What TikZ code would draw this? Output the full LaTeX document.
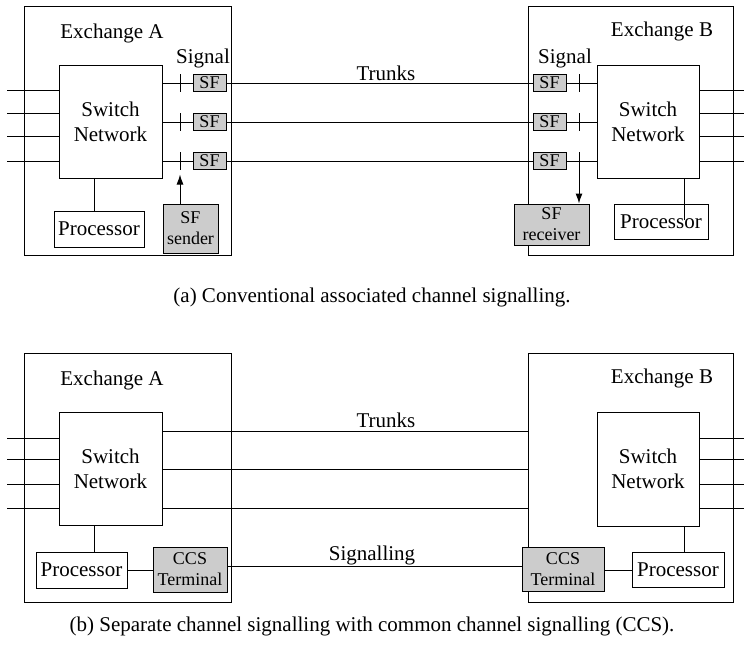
\documentclass[tikz,border=0pt]{standalone}
\usepackage{fontspec}
\setmainfont{Liberation Serif}
\usetikzlibrary{arrows.meta,calc}
\tikzset{
  box/.style={draw, line width=1pt, inner sep=0pt, align=center, font=\fontsize{21}{25}\selectfont},
  graybox/.style={box, fill=gray!40, font=\fontsize{18}{21}\selectfont},
  lbl/.style={inner sep=0pt, font=\fontsize{21}{25}\selectfont},
  wire/.style={line width=1pt},
  arr/.style={line width=1pt, -{Latex[length=10pt,width=7pt]}}
}
\begin{document}
\begin{tikzpicture}[x=1pt,y=-1pt]
\useasboundingbox (0,0) rectangle (744,659);
% ===== top panel =====
\node[box, minimum width=207pt, minimum height=249pt] (exA) at (127.5,130.5) {};
\node[box, minimum width=205pt, minimum height=249pt] (exB) at (630.5,130.5) {};
\node[lbl] (exAl) at (112,33) {Exchange A};
\node[lbl] (exBl) at (662,31) {Exchange B};
\node[box, minimum width=103pt, minimum height=113pt] (swA) at (110.5,121.5) {Switch\\Network};
\node[box, minimum width=102pt, minimum height=113pt] (swB) at (648,121.5) {Switch\\Network};
\node[box, minimum width=90pt, minimum height=36pt] (procA) at (99,229) {Processor};
\node[box, minimum width=94pt, minimum height=35pt] (procB) at (661,221.5) {Processor};
\node[graybox, minimum width=55pt, minimum height=49pt] (sendA) at (190.5,228.5) {SF\\sender};
\node[graybox, minimum width=75pt, minimum height=41pt] (recvB) at (551.5,224.5) {SF\\receiver};
\node[lbl] (sigA) at (203,58) {Signal};
\node[lbl] (sigB) at (565,58) {Signal};
\node[lbl] (trA) at (386,73) {Trunks};
\foreach \i/\y in {1/83,2/122,3/161}{
  \node[graybox, minimum width=33pt, minimum height=17pt] (sfA\i) at (209.5,\y) {SF};
  \node[graybox, minimum width=33pt, minimum height=17pt] (sfB\i) at (549.5,\y) {SF};
}
\coordinate (tA) at (180,0);
\coordinate (tB) at (579,0);
\foreach \i in {1,2,3}{
  \draw[wire] (sfA\i -| swA.east) -- (sfA\i);
  \draw[wire] (sfA\i) -- (sfB\i);
  \draw[wire] (sfB\i) -- (sfB\i -| swB.west);
  \draw[wire] ($(tA |- sfA\i)+(0,-9)$) -- ($(tA |- sfA\i)+(0,9)$);
}
\draw[wire] ($(tB |- sfB1)+(0,-9)$) -- ($(tB |- sfB1)+(0,9)$);
\draw[wire] ($(tB |- sfB2)+(0,-9)$) -- ($(tB |- sfB2)+(0,9)$);
\draw[arr] ($(tB |- sfB3)+(0,-9)$) -- (recvB.north -| tB);
\draw[arr] (sendA.north -| tA) -- ++(0,-29);
\foreach \i/\y in {1/90,2/113,3/136,4/161}{
  \coordinate (la\i) at (7,\y);
  \coordinate (ra\i) at (744,\y);
  \draw[wire] (la\i) -- (la\i -| swA.west);
  \draw[wire] (ra\i -| swB.east) -- (ra\i);
}
\coordinate (xA) at (94,0);
\coordinate (xB) at (684,0);
\draw[wire] (swA.south -| xA) -- (procA.north -| xA);
\draw[wire] (swB.south -| xB) -- ($(procB.north -| xB)+(0,16)$);
\node[lbl] (capA) at (372,297) {(a) Conventional associated channel signalling.};
% ===== bottom panel =====
\node[box, minimum width=207pt, minimum height=249pt] (exA2) at (127.5,477.5) {};
\node[box, minimum width=205pt, minimum height=249pt] (exB2) at (630.5,477.5) {};
\node[lbl] (exA2l) at (112,380) {Exchange A};
\node[lbl] (exB2l) at (662,378) {Exchange B};
\node[box, minimum width=103pt, minimum height=113pt] (swA2) at (110.5,468.5) {Switch\\Network};
\node[box, minimum width=102pt, minimum height=114pt] (swB2) at (648,469) {Switch\\Network};
\node[box, minimum width=91pt, minimum height=36pt] (procA2) at (81.5,570) {Processor};
\node[box, minimum width=92pt, minimum height=35pt] (procB2) at (678,569.5) {Processor};
\node[graybox, minimum width=74pt, minimum height=45pt] (ccsA) at (190,569.5) {CCS\\Terminal};
\node[graybox, minimum width=82pt, minimum height=44pt] (ccsB) at (563,569) {CCS\\Terminal};
\node[lbl] (trB) at (386,420) {Trunks};
\node[lbl] (sgl) at (372,555) {Signalling};
\foreach \i/\y in {1/431,2/469,3/508}{
  \coordinate (tk\i) at (0,\y);
  \draw[wire] (tk\i -| swA2.east) -- (tk\i -| exB2.west);
}
\foreach \i/\y in {1/438,2/459,3/484,4/508}{
  \coordinate (lb\i) at (7,\y);
  \coordinate (rb\i) at (744,\y);
  \draw[wire] (lb\i) -- (lb\i -| swA2.west);
  \draw[wire] (rb\i -| swB2.east) -- (rb\i);
}
\coordinate (xA2) at (94,0);
\coordinate (xB2) at (684,0);
\draw[wire] (swA2.south -| xA2) -- (procA2.north -| xA2);
\draw[wire] (swB2.south -| xB2) -- (procB2.north -| xB2);
\coordinate (py) at (0,570);
\coordinate (sy) at (0,566);
\draw[wire] (py -| procA2.east) -- (py -| ccsA.west);
\draw[wire] (py -| ccsB.east) -- (py -| procB2.west);
\draw[wire] (sy -| ccsA.east) -- (sy -| ccsB.west);
\node[lbl] (capB) at (372,626) {(b) Separate channel signalling with common channel signalling (CCS).};
\end{tikzpicture}
\end{document}
